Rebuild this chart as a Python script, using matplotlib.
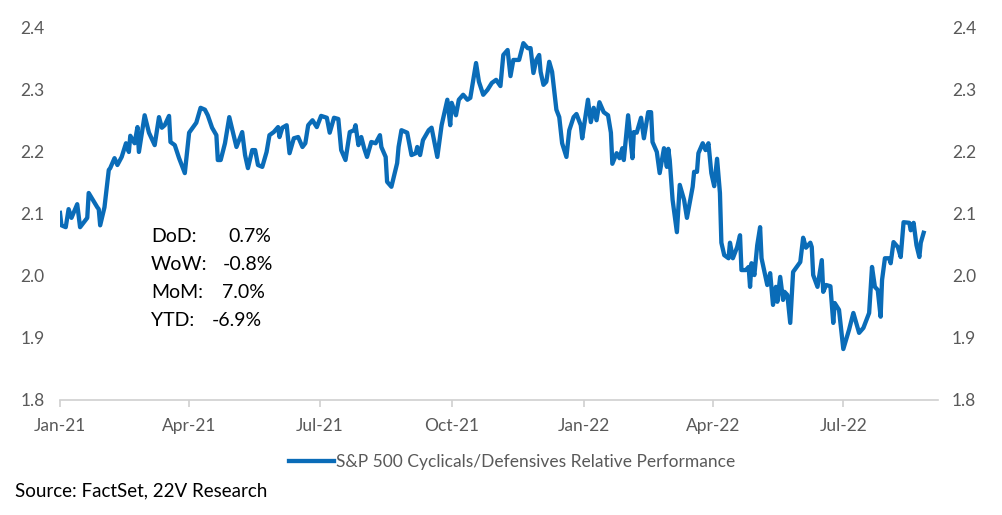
import numpy as np
import pandas as pd
import matplotlib
matplotlib.use("Agg")
import matplotlib.pyplot as plt
import matplotlib.dates as mdates

plt.rcParams['font.family'] = ['Lato', 'DejaVu Sans']

# S&P 500 Cyclicals/Defensives relative performance
dates_2021 = [
    "01-01", "01-02", "01-05", "01-07", "01-09", "01-13", "01-15", "01-20", "01-21", "01-27",
    "01-28", "01-29", "02-01", "02-04", "02-05", "02-08", "02-10", "02-13", "02-16", "02-18",
    "02-19", "02-22", "02-24", "02-25", "03-01", "03-04", "03-08", "03-11", "03-13", "03-15",
    "03-18", "03-19", "03-22", "03-25", "03-29", "04-01", "04-06", "04-09", "04-12", "04-14",
    "04-17", "04-20", "04-21", "04-23", "04-26", "04-29", "05-02", "05-04", "05-08", "05-10",
    "05-12", "05-15", "05-17", "05-19", "05-22", "05-25", "05-27", "05-30", "06-02", "06-03",
    "06-05", "06-08", "06-10", "06-13", "06-16", "06-19", "06-21", "06-23", "06-26", "06-29",
    "07-02", "07-06", "07-08", "07-11", "07-14", "07-16", "07-19", "07-22", "07-25", "07-26",
    "07-28", "07-30", "08-01", "08-03", "08-06", "08-09", "08-12", "08-13", "08-16", "08-17",
    "08-20", "08-24", "08-25", "08-27", "08-31", "09-03", "09-06", "09-07", "09-09", "09-11",
    "09-15", "09-17", "09-21", "09-24", "09-28", "09-30", "10-01", "10-04", "10-06", "10-09",
    "10-12", "10-14", "10-18", "10-20", "10-23", "10-26", "10-29", "11-01", "11-04", "11-06",
    "11-09", "11-11", "11-13", "11-17", "11-20", "11-23", "11-25", "11-27", "11-29", "12-01",
    "12-02", "12-04", "12-06", "12-08", "12-10", "12-13", "12-15", "12-17", "12-20", "12-22",
    "12-25", "12-27", "12-30", "12-31",
]
values_2021 = [
    2.101, 2.081, 2.078, 2.107, 2.093, 2.115, 2.078, 2.093, 2.133, 2.110,
    2.107, 2.081, 2.110, 2.170, 2.173, 2.189, 2.178, 2.191, 2.213, 2.199,
    2.225, 2.213, 2.239, 2.199, 2.258, 2.230, 2.210, 2.255, 2.238, 2.242,
    2.257, 2.215, 2.210, 2.189, 2.165, 2.230, 2.246, 2.270, 2.267, 2.258,
    2.238, 2.226, 2.186, 2.186, 2.213, 2.255, 2.226, 2.207, 2.231, 2.194,
    2.173, 2.202, 2.202, 2.178, 2.175, 2.199, 2.226, 2.231, 2.239, 2.223,
    2.238, 2.242, 2.197, 2.221, 2.223, 2.207, 2.213, 2.242, 2.250, 2.239,
    2.257, 2.254, 2.230, 2.254, 2.252, 2.202, 2.186, 2.231, 2.234, 2.242,
    2.210, 2.223, 2.205, 2.191, 2.215, 2.213, 2.226, 2.207, 2.191, 2.151,
    2.143, 2.181, 2.207, 2.234, 2.230, 2.194, 2.197, 2.207, 2.194, 2.218,
    2.234, 2.238, 2.191, 2.242, 2.283, 2.242, 2.278, 2.258, 2.283, 2.291,
    2.283, 2.286, 2.342, 2.312, 2.291, 2.299, 2.310, 2.315, 2.305, 2.355,
    2.363, 2.321, 2.347, 2.347, 2.374, 2.366, 2.366, 2.326, 2.347, 2.355,
    2.328, 2.307, 2.312, 2.344, 2.328, 2.267, 2.255, 2.213, 2.191, 2.234,
    2.255, 2.260, 2.242, 2.221,
]
dates_2022 = [
    "01-04", "01-06", "01-08", "01-10", "01-12", "01-15", "01-18", "01-20", "01-21", "01-24",
    "01-26", "01-28", "01-29", "02-01", "02-04", "02-05", "02-07", "02-10", "02-12", "02-15",
    "02-17", "02-18", "02-21", "02-23", "02-26", "02-28", "03-01", "03-02", "03-04", "03-07",
    "03-09", "03-12", "03-14", "03-18", "03-19", "03-21", "03-22", "03-25", "03-27", "03-29",
    "03-31", "04-02", "04-04", "04-06", "04-07", "04-09", "04-12", "04-13", "04-15", "04-18",
    "04-20", "04-21", "04-24", "04-26", "04-27", "04-28", "04-30", "05-02", "05-04", "05-05",
    "05-09", "05-11", "05-13", "05-15", "05-16", "05-18", "05-20", "05-21", "05-23", "05-25",
    "05-27", "06-01", "06-03", "06-05", "06-08", "06-09", "06-10", "06-13", "06-16", "06-17",
    "06-19", "06-22", "06-24", "06-25", "06-28", "07-01", "07-05", "07-08", "07-09", "07-12",
    "07-15", "07-19", "07-21", "07-23", "07-25", "07-27", "07-28", "07-30", "08-02", "08-03",
    "08-05", "08-08", "08-10", "08-12", "08-16", "08-17", "08-19", "08-21", "08-23", "08-24",
    "08-26",
]
values_2022 = [
    2.283, 2.247, 2.270, 2.250, 2.279, 2.263, 2.258, 2.230, 2.180, 2.197,
    2.189, 2.205, 2.186, 2.258, 2.189, 2.231, 2.230, 2.254, 2.221, 2.263,
    2.263, 2.215, 2.199, 2.165, 2.205, 2.175, 2.204, 2.186, 2.122, 2.070,
    2.146, 2.122, 2.093, 2.143, 2.167, 2.167, 2.197, 2.213, 2.202, 2.213,
    2.165, 2.144, 2.188, 2.133, 2.053, 2.033, 2.028, 2.053, 2.028, 2.046,
    2.065, 2.009, 2.009, 2.014, 1.982, 2.020, 2.001, 2.049, 2.078, 2.028,
    1.985, 2.004, 1.953, 1.982, 1.958, 1.998, 1.961, 1.974, 1.969, 1.924,
    2.006, 2.022, 2.061, 2.045, 2.053, 2.046, 2.001, 1.982, 2.025, 1.974,
    1.985, 1.983, 1.924, 1.956, 1.945, 1.882, 1.913, 1.940, 1.932, 1.908,
    1.916, 1.940, 2.014, 1.982, 1.977, 1.934, 1.993, 2.028, 2.028, 2.020,
    2.054, 2.046, 2.030, 2.086, 2.085, 2.073, 2.085, 2.049, 2.030, 2.053,
    2.069,
]

stat_labels = ["DoD:", "WoW:", "MoM:", "YTD:"]
stat_values = ["0.7%", "-0.8%", "7.0%", "-6.9%"]
series_name = "S&P 500 Cyclicals/Defensives Relative Performance"
source_text = "Source: FactSet, 22V Research"

dates = pd.to_datetime(["2021-" + d for d in dates_2021] + ["2022-" + d for d in dates_2022])
values = np.array(values_2021 + values_2022)

blue = "#0A6CB8"
grey = "#595959"

fig = plt.figure(figsize=(10.02, 5.15), dpi=100)
ax = fig.add_axes([60 / 1002, 1 - 400 / 515, 878 / 1002, 373 / 515])

ax.plot(dates, values, color=blue, lw=3.1, solid_joinstyle="round", label=series_name)

start = pd.Timestamp("2021-01-01")
ax.set_xlim(start, start + pd.Timedelta(days=612))
ax.set_ylim(1.8, 2.4)
ax.set_yticks(np.arange(1.8, 2.41, 0.1))
ax.yaxis.set_major_formatter(matplotlib.ticker.FormatStrFormatter("%.1f"))

ax.xaxis.set_major_locator(mdates.MonthLocator(bymonth=[1, 4, 7, 10]))
ax.xaxis.set_major_formatter(mdates.DateFormatter("%b-%y"))

for s in ["top", "left", "right"]:
    ax.spines[s].set_visible(False)
ax.spines["bottom"].set_color("#D0D0D0")
ax.spines["bottom"].set_linewidth(1.2)
ax.tick_params(axis="x", colors="#D0D0D0", length=5, width=1.2, labelcolor=grey,
               labelsize=12.5, pad=8)
ax.tick_params(axis="y", length=0, labelcolor=grey, labelsize=12.5, pad=11)

ax2 = ax.twinx()
ax2.set_ylim(ax.get_ylim())
ax2.set_yticks(ax.get_yticks())
ax2.yaxis.set_major_formatter(matplotlib.ticker.FormatStrFormatter("%.1f"))
for s in ["top", "left", "right", "bottom"]:
    ax2.spines[s].set_visible(False)
ax2.tick_params(axis="y", length=0, labelcolor=grey, labelsize=12.5, pad=10)

# stats box
label_y = [237, 264, 292, 320]
value_x = [228, 223, 222, 212]
for lab, val, yy, vx in zip(stat_labels, stat_values, label_y, value_x):
    fig.text(151 / 1002, 1 - yy / 515, lab, fontsize=14, color="black", va="center")
    fig.text(vx / 1002, 1 - yy / 515, val, fontsize=14, color="black", va="center")

fig.legend(loc="center", bbox_to_anchor=(512 / 1002, 1 - 462 / 515), frameon=False,
           fontsize=12.5, labelcolor=grey, handlelength=2.6, handletextpad=0.1)

fig.text(15 / 1002, 1 - 491 / 515, source_text, fontsize=13.5, color="black", va="center")

fig.savefig("out.png", dpi=100)
